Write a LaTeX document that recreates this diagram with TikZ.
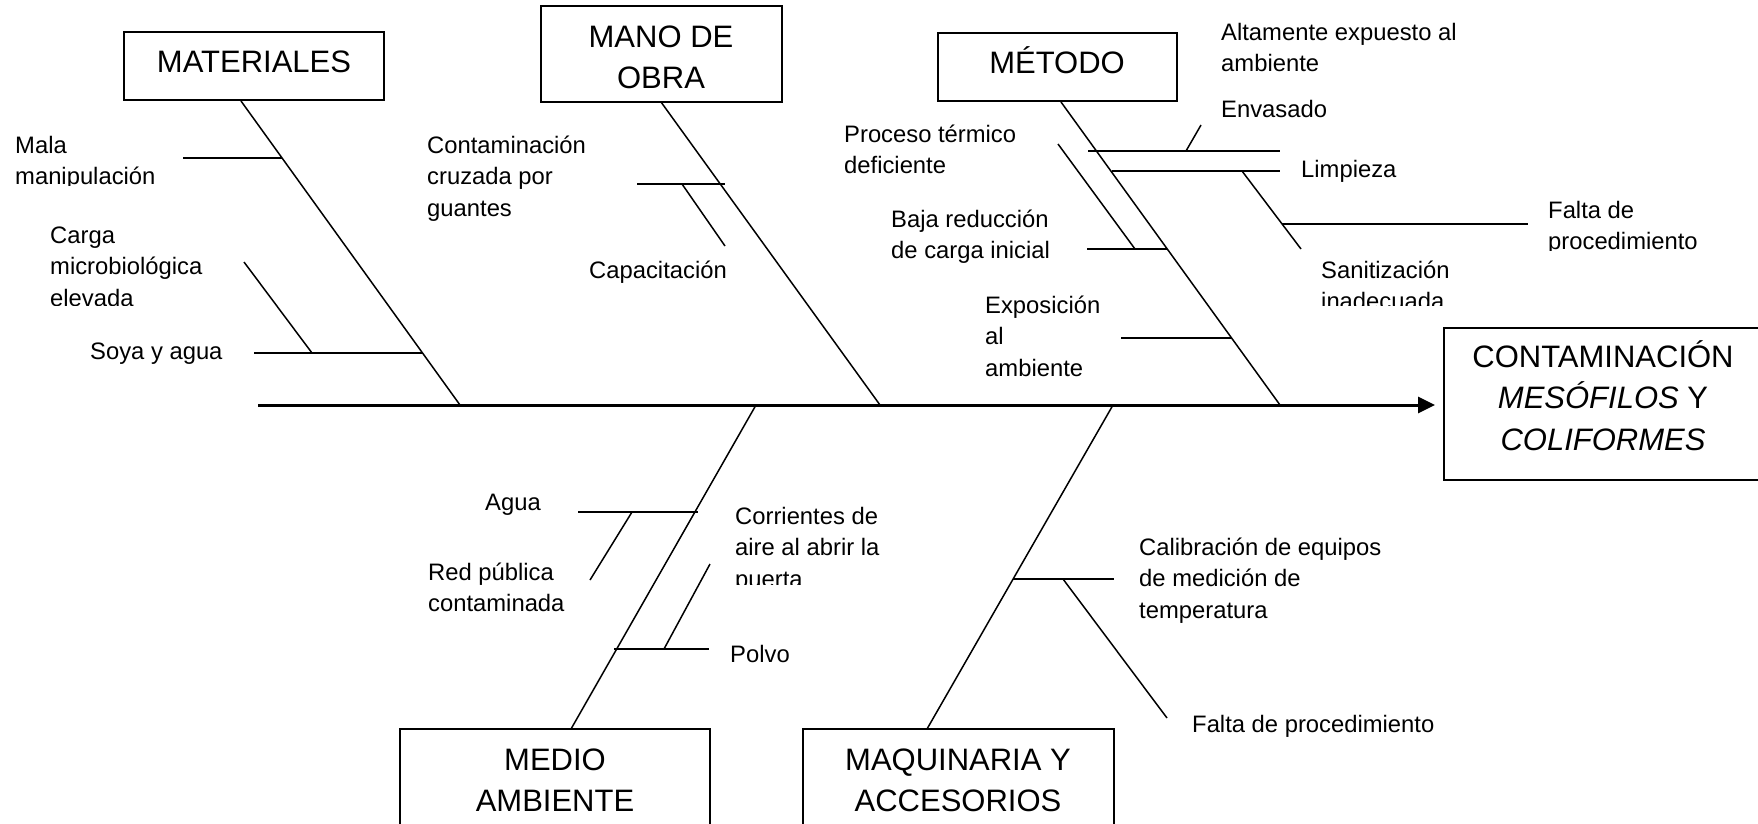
\documentclass[tikz,border=0pt]{standalone}
\usepackage{fontspec}
\setmainfont{Liberation Sans}
\usetikzlibrary{arrows.meta}
\newcommand\mlt[1]{\begin{tabular}[t]{@{}l@{}}#1\end{tabular}}
\newcommand\mlc[1]{\begin{tabular}[t]{@{}c@{}}#1\end{tabular}}
\begin{document}
\begin{tikzpicture}[x=1pt,y=-1pt,
  bone/.style={line width=1.5pt},
  spine/.style={line width=3pt,-{Triangle[length=17pt,width=16pt]}},
  catbox/.style={draw,line width=1.6pt},
  cat/.style={anchor=base,inner sep=0pt,font=\fontsize{31}{41.5}\selectfont},
  lbl/.style={anchor=base west,inner sep=0pt,font=\fontsize{23.8}{31.5}\selectfont}]
\useasboundingbox (0,0) rectangle (1758,823);

% ---- category boxes ----
\draw[catbox] (124,32) rectangle (384,100);
\node[cat] (mat) at (254,72) {MATERIALES};
\draw[catbox] (541,6) rectangle (782,102);
\node[cat] (mano) at (661,47) {\mlc{MANO DE\\OBRA}};
\draw[catbox] (938,33) rectangle (1177,101);
\node[cat] (met) at (1057,73) {MÉTODO};
\draw[catbox] (1444,328) rectangle (1762,480);
\node[cat] (efecto) at (1603,367) {\mlc{CONTAMINACIÓN\\\textit{MESÓFILOS} Y\\\textit{COLIFORMES}}};
\draw[catbox] (400,729) rectangle (710,835);
\node[cat] (med) at (555,770) {\mlc{MEDIO\\AMBIENTE}};
\draw[catbox] (803,729) rectangle (1114,835);
\node[cat] (maq) at (958,770) {\mlc{MAQUINARIA Y\\ACCESORIOS}};

% ---- spine ----
\coordinate (sp0) at (258,405);
\coordinate (sp1) at (1435,405);
\draw[spine] (sp0) -- (sp1);

% ---- main bones ----
\coordinate (matT) at (241,101);  \coordinate (matB) at (460,405);
\coordinate (manoT) at (661,102); \coordinate (manoB) at (880,405);
\coordinate (metT) at (1061,102); \coordinate (metB) at (1280,405);
\coordinate (medT) at (756,405);  \coordinate (medB) at (571,729);
\coordinate (maqT) at (1113,405); \coordinate (maqB) at (927,729);
\draw[bone] (matT) -- (matB);
\draw[bone] (manoT) -- (manoB);
\draw[bone] (metT) -- (metB);
\draw[bone] (medT) -- (medB);
\draw[bone] (maqT) -- (maqB);

% ---- MATERIALES sub-bones ----
\coordinate (a1) at (183,158); \coordinate (a2) at (282,158);
\coordinate (a3) at (254,353); \coordinate (a4) at (423,353);
\coordinate (a5) at (244,262); \coordinate (a6) at (312,353);
\draw[bone] (a1) -- (a2);
\draw[bone] (a3) -- (a4);
\draw[bone] (a5) -- (a6);

% ---- MANO DE OBRA sub-bones ----
\coordinate (b1) at (637,184); \coordinate (b2) at (725,184);
\coordinate (b3) at (682,184); \coordinate (b4) at (725,246);
\draw[bone] (b1) -- (b2);
\draw[bone] (b3) -- (b4);

% ---- METODO sub-bones ----
\coordinate (c1) at (1088,151); \coordinate (c2) at (1280,151);
\coordinate (c3) at (1186,151); \coordinate (c4) at (1201,125);
\coordinate (c5) at (1112,171); \coordinate (c6) at (1280,171);
\coordinate (c7) at (1242,171); \coordinate (c8) at (1301,249);
\coordinate (c9) at (1282,224); \coordinate (c10) at (1528,224);
\coordinate (c11) at (1058,144); \coordinate (c12) at (1135,249);
\coordinate (c13) at (1087,249); \coordinate (c14) at (1167,249);
\coordinate (c15) at (1121,338); \coordinate (c16) at (1231,338);
\draw[bone] (c1) -- (c2);
\draw[bone] (c3) -- (c4);
\draw[bone] (c5) -- (c6);
\draw[bone] (c7) -- (c8);
\draw[bone] (c9) -- (c10);
\draw[bone] (c11) -- (c12);
\draw[bone] (c13) -- (c14);
\draw[bone] (c15) -- (c16);

% ---- MEDIO AMBIENTE sub-bones ----
\coordinate (d1) at (578,512); \coordinate (d2) at (698,512);
\coordinate (d3) at (632,512); \coordinate (d4) at (590,580);
\coordinate (d5) at (614,649); \coordinate (d6) at (709,649);
\coordinate (d7) at (664,649); \coordinate (d8) at (710,564);
\draw[bone] (d1) -- (d2);
\draw[bone] (d3) -- (d4);
\draw[bone] (d5) -- (d6);
\draw[bone] (d7) -- (d8);

% ---- MAQUINARIA sub-bones ----
\coordinate (e1) at (1013,579); \coordinate (e2) at (1114,579);
\coordinate (e3) at (1063,579); \coordinate (e4) at (1167,718);
\draw[bone] (e1) -- (e2);
\draw[bone] (e3) -- (e4);

% ---- labels ----
\begin{scope}
\clip (0,100) rectangle (300,185);
\node[lbl] (tMala) at (15,153) {\mlt{Mala\\manipulación}};
\end{scope}
\begin{scope}
\clip (0,200) rectangle (240,305);
\node[lbl] (tCarga) at (50,243) {\mlt{Carga\\microbiológica\\elevada}};
\end{scope}
\node[lbl] (tSoya) at (90,359) {Soya y agua};
\node[lbl] (tCont) at (427,153) {\mlt{Contaminación\\cruzada por\\guantes}};
\node[lbl] (tCap) at (589,278) {Capacitación};
\node[lbl] (tProc) at (844,142) {\mlt{Proceso térmico\\deficiente}};
\node[lbl] (tBaja) at (891,227) {\mlt{Baja reducción\\de carga inicial}};
\node[lbl] (tExpo) at (985,313) {\mlt{Exposición\\al\\ambiente}};
\node[lbl] (tAlta) at (1221,40) {\mlt{Altamente expuesto al\\ambiente}};
\node[lbl] (tEnv) at (1221,117) {Envasado};
\node[lbl] (tLimp) at (1301,177) {Limpieza};
\begin{scope}
\clip (1500,180) rectangle (1758,250);
\node[lbl] (tFalta1) at (1548,218) {\mlt{Falta de\\procedimiento}};
\end{scope}
\begin{scope}
\clip (1300,240) rectangle (1520,305);
\node[lbl] (tSan) at (1321,278) {\mlt{Sanitización\\inadecuada}};
\end{scope}
\node[lbl] (tAgua) at (485,510) {Agua};
\node[lbl] (tRed) at (428,580) {\mlt{Red pública\\contaminada}};
\begin{scope}
\clip (720,490) rectangle (950,584);
\node[lbl] (tCorr) at (735,524) {\mlt{Corrientes de\\aire al abrir la\\puerta}};
\end{scope}
\node[lbl] (tPolvo) at (730,662) {Polvo};
\node[lbl] (tCal) at (1139,555) {\mlt{Calibración de equipos\\de medición de\\temperatura}};
\node[lbl] (tFalta2) at (1192,732) {Falta de procedimiento};
\end{tikzpicture}
\end{document}
